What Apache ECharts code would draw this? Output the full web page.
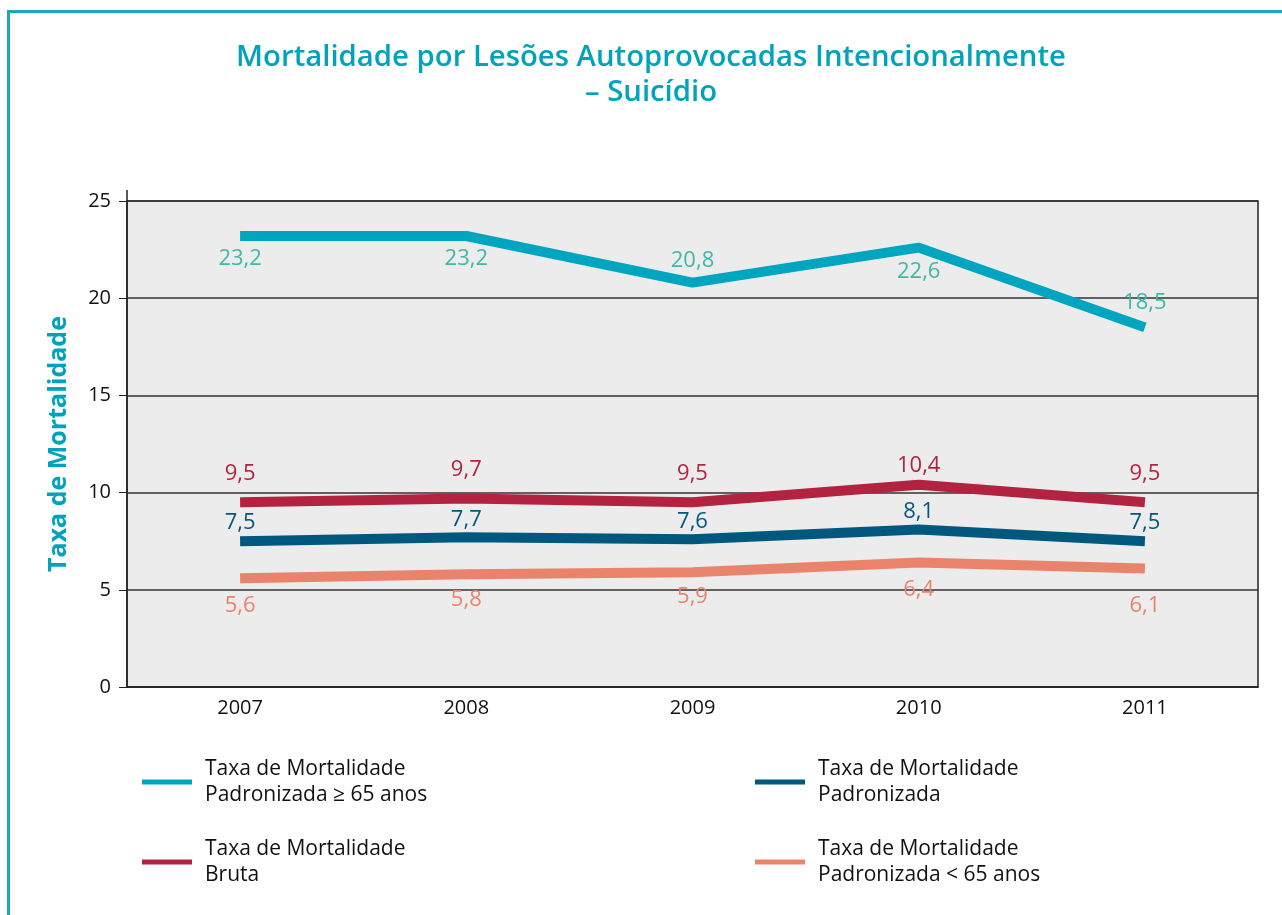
<!DOCTYPE html>
<html>
<head>
<meta charset="utf-8">
<script src="https://cdn.jsdelivr.net/npm/echarts@6/dist/echarts.min.js"></script>
<style>
  body { margin: 0; background: #fff; }
  #frame {
    position: absolute; left: 7px; top: 10px; width: 1300px; height: 920px;
    border-left: 3px solid #1ba7bd; border-top: 3px solid #1ba7bd;
  }
  #chart { position: absolute; left: 0; top: 0; width: 1282px; height: 915px; }
</style>
</head>
<body>
<div id="frame"></div>
<div id="chart"></div>
<script>
// dados do gráfico
const anos = ['2007', '2008', '2009', '2010', '2011'];
const padr65mais = [23.2, 23.2, 20.8, 22.6, 18.5];
const bruta = [9.5, 9.7, 9.5, 10.4, 9.5];
const padronizada = [7.5, 7.7, 7.6, 8.1, 7.5];
const padr65menos = [5.6, 5.8, 5.9, 6.4, 6.1];

const nomes = [
  'Taxa de Mortalidade\nPadronizada ≥ 65 anos',
  'Taxa de Mortalidade\nBruta',
  'Taxa de Mortalidade\nPadronizada',
  'Taxa de Mortalidade\nPadronizada < 65 anos'
];

const FONT = '"Open Sans", "Noto Sans", sans-serif';
const fmt = p => String(p.value).replace('.', ',');

// série com rótulo por ponto (posição acima/abaixo)
function serie(name, vals, color, labelColor, pos, dist) {
  return {
    name: name,
    type: 'line',
    symbol: 'circle',
    symbolSize: 0,
    showSymbol: true,
    lineStyle: { width: 10, color: color, cap: 'butt' },
    itemStyle: { color: color },
    data: vals.map((v, i) => ({
      value: v,
      label: { position: pos[i], distance: dist[i] }
    })),
    label: {
      show: true,
      formatter: fmt,
      color: labelColor,
      fontSize: 22,
      fontFamily: FONT
    },
    z: 3
  };
}

let chart = echarts.init(document.getElementById('chart'));
let option = {
  animation: false,
  title: {
    text: 'Mortalidade por Lesões Autoprovocadas Intencionalmente\n– Suicídio',
    left: 646,
    top: 35,
    textAlign: 'center',
    textStyle: {
      color: '#00a3bb', fontSize: 29.3, fontWeight: 600,
      fontFamily: FONT, lineHeight: 35
    }
  },
  grid: {
    left: 127, right: 24, top: 201, bottom: 228,
    show: true, backgroundColor: '#ececec', borderColor: '#222', borderWidth: 1.5
  },
  graphic: [
    // prolongamento do eixo y acima do 25
    { type: 'line', shape: { x1: 127, y1: 190, x2: 127, y2: 201 }, style: { stroke: '#222', lineWidth: 1.5 } }
  ],
  legend: [
    {
      data: [nomes[0], nomes[1]],
      orient: 'vertical', left: 142, top: 756, padding: 0,
      itemWidth: 50, itemHeight: 5, itemGap: 28, icon: 'rect',
      textStyle: { fontSize: 21, fontFamily: FONT, color: '#111', lineHeight: 26, padding: [0, 0, 0, 8] }
    },
    {
      data: [nomes[2], nomes[3]],
      orient: 'vertical', left: 755, top: 756, padding: 0,
      itemWidth: 50, itemHeight: 5, itemGap: 28, icon: 'rect',
      textStyle: { fontSize: 21, fontFamily: FONT, color: '#111', lineHeight: 26, padding: [0, 0, 0, 8] }
    }
  ],
  xAxis: {
    type: 'category',
    data: anos,
    boundaryGap: true,
    axisLine: { lineStyle: { color: '#222', width: 1.5 } },
    axisTick: { inside: true, length: 10, lineStyle: { color: '#222' } },
    axisLabel: { color: '#111', fontSize: 20, fontFamily: FONT, margin: 11 }
  },
  yAxis: {
    type: 'value',
    min: 0, max: 25, interval: 5,
    name: 'Taxa de Mortalidade',
    nameLocation: 'middle',
    nameGap: 56,
    nameTextStyle: { color: '#00a3bb', fontSize: 25, fontWeight: 'bold', fontFamily: FONT },
    axisLine: { show: true, lineStyle: { color: '#222', width: 1.5 } },
    axisTick: { show: true, length: 8, lineStyle: { color: '#222' } },
    axisLabel: { color: '#111', fontSize: 20, fontFamily: FONT, margin: 16 },
    splitLine: { lineStyle: { color: '#333', width: 1.5 } }
  },
  series: [
    serie(nomes[0], padr65mais, '#00a5bf', '#3fb8a6',
      ['bottom', 'bottom', 'top', 'bottom', 'top'], [12, 12, 11, 13, 14]),
    serie(nomes[1], bruta, '#b22241', '#b22241',
      ['top', 'top', 'top', 'top', 'top'], [18, 18, 18, 8, 18]),
    serie(nomes[2], padronizada, '#00587e', '#00587e',
      ['top', 'top', 'top', 'top', 'top'], [7, 7, 7, 7, 7]),
    serie(nomes[3], padr65menos, '#ea836c', '#ea836c',
      ['bottom', 'bottom', 'bottom', 'bottom', 'bottom'], [17, 14, 13, 16, 26])
  ]
};
chart.setOption(option);
</script>
</body>
</html>
